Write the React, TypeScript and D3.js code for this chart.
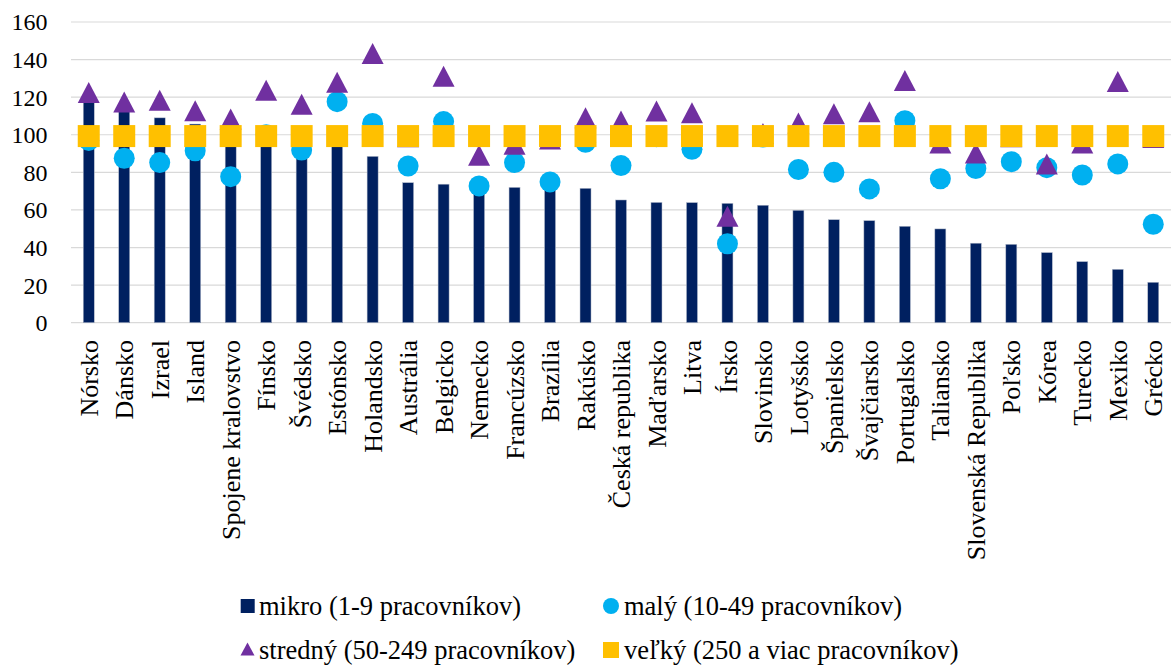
import React from "react";
import * as d3 from "d3";

const countries = ["Nórsko","Dánsko","Izrael","Island","Spojene kralovstvo","Fínsko","Švédsko","Estónsko","Holandsko","Austrália","Belgicko","Nemecko","Francúzsko","Brazília","Rakúsko","Česká republika","Maďarsko","Litva","Írsko","Slovinsko","Lotyšsko","Španielsko","Švajčiarsko","Portugalsko","Taliansko","Slovenská Republika","Poľsko","Kórea","Turecko","Mexiko","Grécko"];
const mikro = [119, 113, 109, 105.7, 97, 99, 94, 100, 88.5, 74.5, 73.7, 71, 72, 73, 71.5, 65.3, 64, 63.9, 63.5, 62.5, 59.8, 54.8, 54.3, 51.3, 49.9, 42.3, 41.7, 37.3, 32.5, 28.4, 21.5];
const maly = [97, 87.5, 85.2, 91.5, 77.7, 100, 91.9, 117.6, 106, 83.4, 107, 72.8, 85.2, 74.9, 96, 83.6, 99, 92.3, 42, 98.8, 81.5, 80, 71.2, 107.5, 76.6, 82, 85.7, 82.5, 78.6, 84.5, 52.4];
const stredny = [122.5, 117.4, 118.4, 112.8, 108.4, 123.7, 116.2, 128, 143.3, 99, 131.2, 89.1, 95, 97.8, 109, 107.3, 112.6, 111.7, 56.7, 100.7, 106.3, 111.2, 112.2, 128.9, 95.6, 90.3, 99, 84.5, 95.6, 128.3, 98.5];
const velky = [99.3, 99.3, 99.3, 99.3, 99.3, 99.3, 99.3, 99.3, 99.3, 99.3, 99.3, 99.3, 99.3, 99.3, 99.3, 99.3, 99.3, 99.3, 99.3, 99.3, 99.3, 99.3, 99.3, 99.3, 99.3, 99.3, 99.3, 99.3, 99.3, 99.3, 99.3];
const yTicks = [0, 20, 40, 60, 80, 100, 120, 140, 160];
const seriesNames = ["mikro (1-9 pracovníkov)", "malý (10-49 pracovníkov)", "stredný (50-249 pracovníkov)", "veľký (250 a viac pracovníkov)"];

const C_MIKRO = "#002060";
const C_MALY = "#00B0F0";
const C_STRED = "#7030A0";
const C_VELKY = "#FFC000";
const FONT = "'Liberation Serif', 'Times New Roman', serif";

// triangle marker centred on its bounding box
const boxTriangle = (w: number, h: number) => ({
  draw(ctx: any) {
    ctx.moveTo(0, -h / 2);
    ctx.lineTo(w / 2, h / 2);
    ctx.lineTo(-w / 2, h / 2);
    ctx.closePath();
  },
});

const txt = { fontFamily: FONT } as React.CSSProperties;

export default function App() {
  const W = 1171, H = 666;
  const x = d3.scaleBand<string>().domain(countries).range([71, 1171]).padding(0);
  const y = d3.scaleLinear().domain([0, 160]).range([322.7, 22]);
  const bw = 11;
  const cx = (i: number) => (x(countries[i]) as number) + x.bandwidth() / 2;
  const tri = d3.symbol().type(boxTriangle(22, 21) as any)() as string;
  const triSmall = d3.symbol().type(boxTriangle(14, 13) as any)() as string;

  return (
    <svg width={W} height={H} style={{ position: "absolute", left: 0, top: 0, display: "block", background: "#fff" }}>
      {yTicks.map((t) => (
        <g key={t}>
          <line x1={71} x2={1171} y1={y(t)} y2={y(t)} stroke="#d9d9d9" strokeWidth={1.2} />
          <text x={47.5} y={y(t)} dy="0.35em" textAnchor="end" fontSize={24} fill="#000" style={txt}>{t}</text>
        </g>
      ))}
      {mikro.map((v, i) => (
        <rect key={"b" + i} x={cx(i) - bw / 2} y={y(v)} width={bw} height={y(0) - y(v)} fill={C_MIKRO} stroke="#b4bccb" strokeWidth={0.5} />
      ))}
      {maly.map((v, i) => (
        <circle key={"c" + i} cx={cx(i)} cy={y(v)} r={10.5} fill={C_MALY} />
      ))}
      {stredny.map((v, i) => (
        <path key={"t" + i} d={tri} transform={`translate(${cx(i)},${y(v)})`} fill={C_STRED} />
      ))}
      {velky.map((v, i) => (
        <rect key={"s" + i} x={cx(i) - 11} y={y(v) - 11} width={22} height={22} fill={C_VELKY} />
      ))}
      {countries.map((c, i) => (
        <text key={"l" + i} transform={`translate(${cx(i)},340) rotate(-90)`} dy="0.35em" textAnchor="end" fontSize={26} fill="#000" style={txt}>{c}</text>
      ))}
      <g>
        <rect x={240.7} y={599} width={14} height={14} fill={C_MIKRO} />
        <text x={259} y={606} dy="0.35em" fontSize={26.5} fill="#000" style={txt}>{seriesNames[0]}</text>
        <circle cx={611} cy={606} r={8} fill={C_MALY} />
        <text x={624} y={606} dy="0.35em" fontSize={26.5} fill="#000" style={txt}>{seriesNames[1]}</text>
        <path d={triSmall} transform="translate(247.5,649)" fill={C_STRED} />
        <text x={259} y={650} dy="0.35em" fontSize={26.5} fill="#000" style={txt}>{seriesNames[2]}</text>
        <rect x={603} y={642} width={16} height={16} fill={C_VELKY} />
        <text x={624} y={650} dy="0.35em" fontSize={26.5} fill="#000" style={txt}>{seriesNames[3]}</text>
      </g>
    </svg>
  );
}
